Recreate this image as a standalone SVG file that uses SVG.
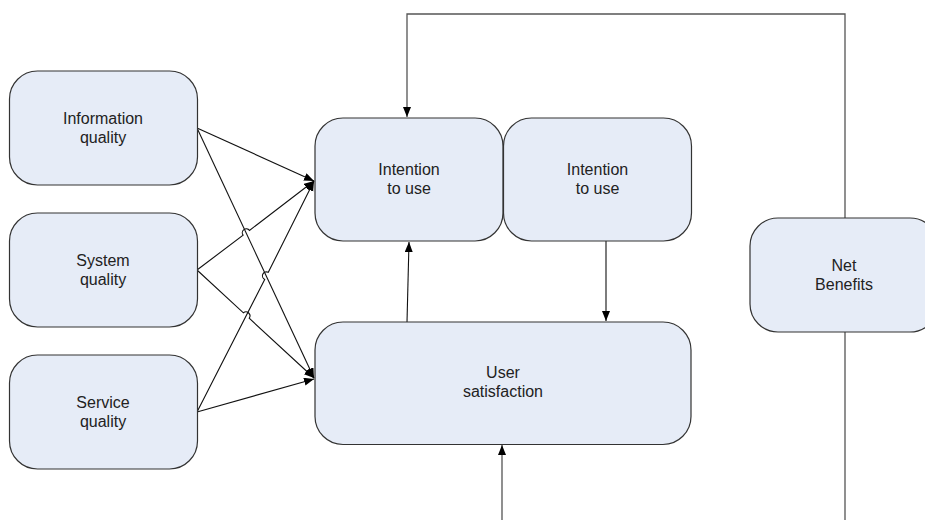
<svg xmlns="http://www.w3.org/2000/svg" width="925" height="520" viewBox="0 0 925 520">
<defs>
<marker id="ah" markerUnits="userSpaceOnUse" markerWidth="11" markerHeight="9" refX="10" refY="4" orient="auto">
<path d="M0,0 L10,4 L0,8 z" fill="#000"/>
</marker>
<style>
.box{fill:#e6ecf7;stroke:#333;stroke-width:1.2}
.t{font-family:"Liberation Sans",Arial,sans-serif;font-size:16px;fill:#222;text-anchor:middle}
.c{fill:none;stroke:#111;stroke-width:1.1;marker-end:url(#ah)}
.fb{fill:none;stroke:#555;stroke-width:1.3;marker-end:url(#ah)}
</style>
</defs>
<rect width="925" height="520" fill="#fff"/>
<g id="connectors">
<path class="fb" d="M845,218 V14 H407 V117"/>
<path class="fb" d="M845,332 V530 H502 V445"/>
<path class="c" d="M407,322 L409,242"/>
<path class="c" d="M606,241 V321"/>
<path class="c" d="M197,128 L314,181"/>
<path class="c" d="M197,128 L314,378"/>
<path class="c" d="M197,270 L243.1,235.2 A4,4 0 0 1 249.5,230.4 L314,181"/>
<path class="c" d="M197,270 L243.4,312.8 A4,4 0 0 1 249.2,318.2 L314,378"/>
<path class="c" d="M197,412 L264.7,279.5 A4,4 0 0 1 268.3,272.3 L314,181"/>
<path class="c" d="M197,412 L314,379"/>
</g>
<g id="info">
<rect class="box" x="9.5" y="71" width="188" height="114" rx="28"/>
<text class="t" x="103" y="123.5">Information</text>
<text class="t" x="103" y="142.5">quality</text>
</g>
<g id="system">
<rect class="box" x="9.5" y="213" width="188" height="114" rx="28"/>
<text class="t" x="103" y="265.5">System</text>
<text class="t" x="103" y="284.5">quality</text>
</g>
<g id="service">
<rect class="box" x="9.5" y="355" width="188" height="114" rx="28"/>
<text class="t" x="103" y="407.5">Service</text>
<text class="t" x="103" y="426.5">quality</text>
</g>
<g id="intention1">
<rect class="box" x="315" y="118" width="188" height="123" rx="28"/>
<text class="t" x="409" y="175">Intention</text>
<text class="t" x="409" y="194">to use</text>
</g>
<g id="intention2">
<rect class="box" x="503.5" y="118" width="188" height="123" rx="28"/>
<text class="t" x="597.5" y="175">Intention</text>
<text class="t" x="597.5" y="194">to use</text>
</g>
<g id="usersat">
<rect class="box" x="315" y="322" width="376" height="122.5" rx="28"/>
<text class="t" x="503" y="378">User</text>
<text class="t" x="503" y="397">satisfaction</text>
</g>
<g id="netbenefits">
<rect class="box" x="750" y="218" width="188" height="114" rx="28"/>
<text class="t" x="844" y="270.5">Net</text>
<text class="t" x="844" y="289.5">Benefits</text>
</g>
</svg>
